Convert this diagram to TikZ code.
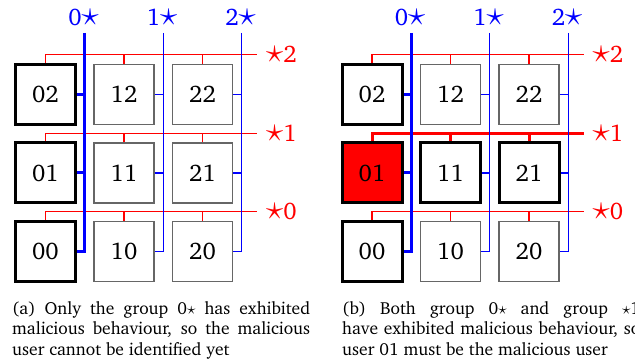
\documentclass[tikz,border=0pt]{standalone}
\usepackage[T1]{fontenc}
\usepackage{charter}
\newcommand\groupstar{\scalebox{1.4}{$\star$}}
\tikzset{
  cell/.style={draw=black!60,line width=1.2pt,minimum size=60pt,inner sep=0pt,
    font=\fontsize{24}{24}\selectfont},
  hot/.style={draw=black,line width=3pt},
  culprit/.style={fill=red},
  colline/.style={draw=blue,line width=1.2pt},
  rowline/.style={draw=red,line width=1.2pt},
  heavy/.style={line width=3pt},
  plain/.style={},
  collabel/.style={text=blue,inner sep=0pt,font=\fontsize{24}{24}\selectfont},
  rowlabel/.style={text=red,inner sep=0pt,anchor=west,font=\fontsize{24}{24}\selectfont},
  caption/.style={text width=298pt,align=justify,anchor=north west,inner sep=0pt,
    font={\fontsize{17.5}{20.5}\selectfont},
    execute at begin node={\hyphenpenalty=10000\relax\exhyphenpenalty=10000\relax}},
  % default look of every cell, row and column group
  a cell 00/.style={plain}, a cell 01/.style={plain}, a cell 02/.style={plain},
  a cell 10/.style={plain}, a cell 11/.style={plain}, a cell 12/.style={plain},
  a cell 20/.style={plain}, a cell 21/.style={plain}, a cell 22/.style={plain},
  b cell 00/.style={plain}, b cell 01/.style={plain}, b cell 02/.style={plain},
  b cell 10/.style={plain}, b cell 11/.style={plain}, b cell 12/.style={plain},
  b cell 20/.style={plain}, b cell 21/.style={plain}, b cell 22/.style={plain},
  a row 0/.style={plain}, a row 1/.style={plain}, a row 2/.style={plain},
  b row 0/.style={plain}, b row 1/.style={plain}, b row 2/.style={plain},
  a col 0/.style={plain}, a col 1/.style={plain}, a col 2/.style={plain},
  b col 0/.style={plain}, b col 1/.style={plain}, b col 2/.style={plain},
  % panel (a): only column group 0* flagged
  a cell 00/.style={hot}, a cell 01/.style={hot}, a cell 02/.style={hot},
  a col 0/.style={heavy},
  % panel (b): column group 0* and row group *1 flagged
  b cell 00/.style={hot}, b cell 01/.style={hot,culprit}, b cell 02/.style={hot},
  b cell 11/.style={hot}, b cell 21/.style={hot},
  b col 0/.style={heavy}, b row 1/.style={heavy},
}
% #1 = name prefix, #2 = horizontal offset
\newcommand\gridpanel[2]{%
  \foreach \c in {0,1,2}{\foreach \r in {0,1,2}{%
    \node[cell,#1 cell \c\r] (#1\c\r) at ({#2+45.5+78.5*\c},{251.5-78.5*\r}) {\c\r};
  }}
  % row groups (red)
  \foreach \r in {0,1,2}{%
    \coordinate (#1h\r) at ({#2+45.5},{211.75-78.5*\r});
    \coordinate (#1he\r) at ({#2+257},{211.75-78.5*\r});
    \draw[rowline,#1 row \r] (#10\r.north) -- (#1h\r) -- (#1he\r);
    \foreach \c in {1,2}{%
      \draw[rowline,#1 row \r] (#1\c\r.north) -- (#1\c\r.north |- #1h\r);
    }
    \node[rowlabel] (#1hl\r) at ([xshift=9pt]#1he\r) {\groupstar\r};
  }
  % column groups (blue)
  \foreach \c in {0,1,2}{%
    \coordinate (#1v\c) at ({#2+84.7+78.5*\c},33);
    \coordinate (#1ve\c) at ({#2+84.7+78.5*\c},251.5);
    \draw[colline,#1 col \c] (#1v\c) -- (#1ve\c) -- (#1\c0.east);
    \foreach \r in {1,2}{%
      \draw[colline,#1 col \c] (#1\c\r.east) -- (#1\c\r.east -| #1v\c);
    }
    \node[collabel] (#1vl\c) at ({#2+83.5+78.5*\c},17.5) {\c\groupstar};
  }
}
\begin{document}
\begin{tikzpicture}[x=1pt,y=-1pt]
\useasboundingbox (0,0) rectangle (635,363);
\gridpanel{a}{0}
\gridpanel{b}{326.5}
\node[caption] (capa) at (12,301) {(a) Only the group 0$\star$ has exhibited malicious behaviour, so the malicious user cannot be identified yet};
\node[caption] (capb) at (342,301) {(b) Both group 0$\star$ and group $\star$1 have exhibited malicious behaviour, so user~01 must be the malicious user};
\end{tikzpicture}
\end{document}
